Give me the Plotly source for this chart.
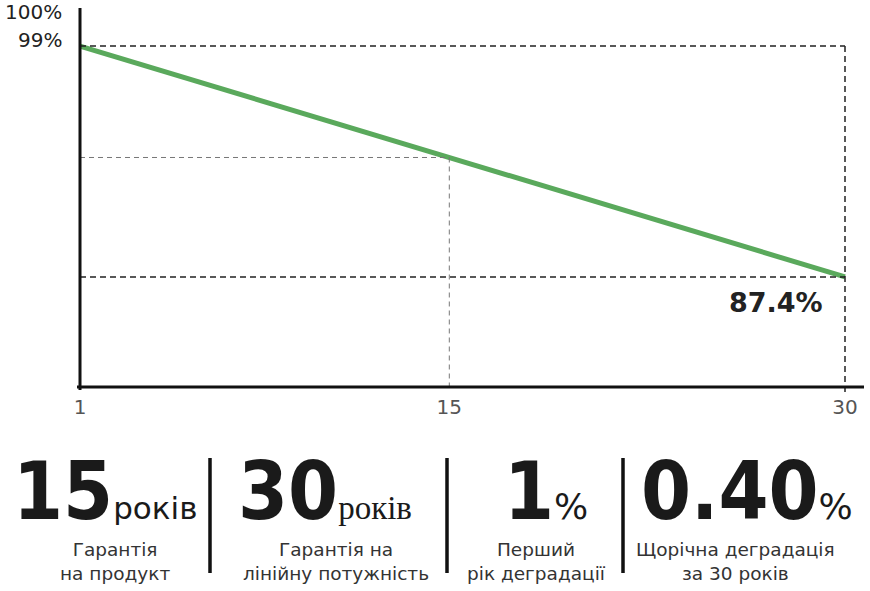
import plotly.graph_objects as go

# ---- data ----
years = [1, 15, 30]
retention = [99.0, 93.4, 87.4]
x_tick_labels = ["1", "15", "30"]
y_labels = ["100%", "99%"]
y_label_values = [100, 99]
end_label = "87.4%"

stat_numbers = ["15", "30", "1", "0.40"]
stat_units = ["років", "років", "%", "%"]
stat_captions = ["Гарантія<br>на продукт", "Гарантія на<br>лінійну потужність",
                 "Перший<br>рік деградації", "Щорічна деградація<br>за 30 років"]

W, H = 870, 591
L, R, T, B = 80, 5, 8, 204
pw, ph = W - L - R, H - T - B


def px(xp):
    return (xp - L) / pw


def py(yp):
    return (H - B - yp) / ph


GREEN = "#5aa95c"
fig = go.Figure()
fig.add_trace(go.Scatter(x=years, y=retention, mode="lines",
                         line=dict(color=GREEN, width=5), hoverinfo="skip",
                         showlegend=False))

shapes = []
dark = dict(color="#222222", width=1.5, dash="6px,4px")
light = dict(color="#777777", width=1, dash="5px,4px")
# horizontal guides
shapes.append(dict(type="line", xref="x", yref="y", x0=years[0], x1=years[-1],
                   y0=retention[0], y1=retention[0], line=dark))
shapes.append(dict(type="line", xref="x", yref="y", x0=years[0], x1=years[1],
                   y0=retention[1], y1=retention[1], line=light))
shapes.append(dict(type="line", xref="x", yref="y", x0=years[0], x1=years[-1],
                   y0=retention[-1], y1=retention[-1], line=dark))
# vertical guides
shapes.append(dict(type="line", xref="x", yref="paper", x0=years[-1], x1=years[-1],
                   y0=py(392), y1=py(46), line=dark))
shapes.append(dict(type="line", xref="x", yref="y", x0=years[1], x1=years[1],
                   y0=retention[1], y1=81.87, line=light))
# axes
shapes.append(dict(type="line", xref="paper", yref="paper", x0=px(80), x1=px(80),
                   y0=py(8), y1=py(390), line=dict(color="#111111", width=3)))
shapes.append(dict(type="line", xref="paper", yref="paper", x0=px(77), x1=px(864),
                   y0=py(387), y1=py(387), line=dict(color="#111111", width=3)))
# dividers
for xd in [210, 447, 623]:
    shapes.append(dict(type="line", xref="paper", yref="paper", x0=px(xd), x1=px(xd),
                       y0=py(458), y1=py(573), line=dict(color="#111111", width=3.5)))

annotations = []
for lab, val, ys in zip(y_labels, y_label_values, [14, 6]):
    annotations.append(dict(xref="paper", yref="y", x=0, y=val, text=lab,
                            xanchor="right", yanchor="middle", xshift=-16, yshift=ys,
                            showarrow=False,
                            font=dict(family="DejaVu Sans", size=20, color="#222222")))
annotations.append(dict(xref="x", yref="y", x=years[-1], y=retention[-1], text=end_label,
                        xanchor="right", yanchor="top", xshift=-20, yshift=-8,
                        showarrow=False,
                        font=dict(family="DejaVu Sans", size=27, color="#222222",
                                  weight="bold")))

num_x = [105, 325, 546, 747]
unit_fonts = ["DejaVu Sans", "Liberation Serif", "DejaVu Sans", "DejaVu Sans"]
unit_sizes = [31, 33, 36, 36]
cap_x = [115, 336, 536, 735]
for i in range(4):
    txt = (f"<span style='font-family:DejaVu Sans Condensed;font-weight:bold;font-size:80px'>{stat_numbers[i]}</span>"
           f"<span style='font-family:{unit_fonts[i]};font-size:{unit_sizes[i]}px;font-weight:normal'>{stat_units[i]}</span>")
    annotations.append(dict(xref="paper", yref="paper", x=px(num_x[i]), y=py(540),
                            text=txt, xanchor="center", yanchor="bottom",
                            showarrow=False,
                            font=dict(family="DejaVu Sans", size=30, color="#1a1a1a")))
    annotations.append(dict(xref="paper", yref="paper", x=px(cap_x[i]), y=py(561),
                            text=stat_captions[i], xanchor="center", yanchor="middle",
                            showarrow=False, align="center",
                            font=dict(family="DejaVu Sans", size=18.5, color="#333333")))

fig.update_layout(
    width=W, height=H, margin=dict(l=L, r=R, t=T, b=B),
    paper_bgcolor="white", plot_bgcolor="white",
    xaxis=dict(range=[1, 1 + pw / 765 * 29], tickvals=years, ticktext=x_tick_labels,
               showgrid=False, zeroline=False, showline=False, ticks="",
               ticklabelstandoff=6,
               tickfont=dict(family="DejaVu Sans", size=20, color="#555555")),
    yaxis=dict(range=[81.87, 100.91], showgrid=False, zeroline=False,
               showline=False, showticklabels=False, ticks=""),
    shapes=shapes, annotations=annotations,
)
fig.write_html("out.html")
